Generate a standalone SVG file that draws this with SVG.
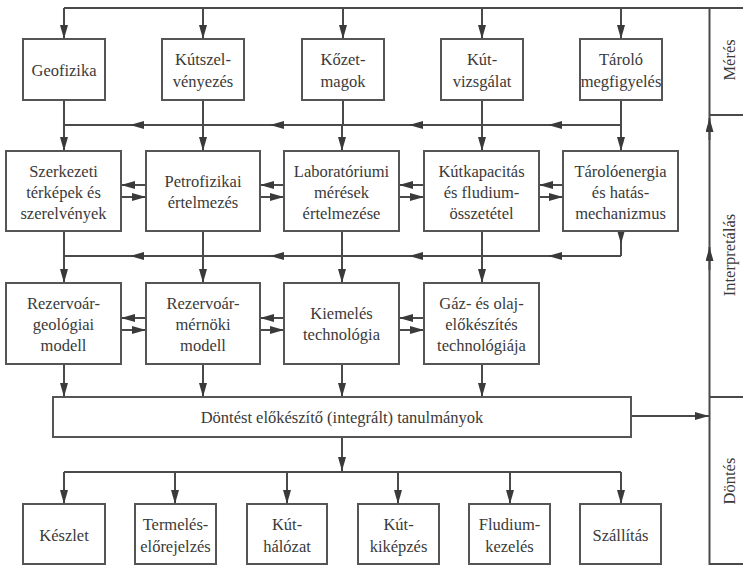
<svg xmlns="http://www.w3.org/2000/svg" width="743" height="565" viewBox="0 0 743 565" font-family="'Liberation Serif', 'DejaVu Serif', serif">
<defs>
<marker id="ah" markerUnits="userSpaceOnUse" markerWidth="14" markerHeight="8" refX="14" refY="4" orient="auto">
<path d="M0,0 L14,4 L0,8 z" fill="#3a3a3a"/>
</marker>
</defs>
<style>
.box{fill:#fff;stroke:#555;stroke-width:2}
.c{fill:none;stroke:#4a4a4a;stroke-width:2}
.a{marker-end:url(#ah)}
text{font-family:'Liberation Serif','DejaVu Serif',serif;font-size:16.5px;fill:#3a3a3a;text-anchor:middle}
</style>
<rect width="743" height="565" fill="#fff"/>

<g id="connectors">
<path class="c" d="M64,8 H743"/>
<path class="c a" d="M64,8 V39"/>
<path class="c a" d="M203,8 V39"/>
<path class="c a" d="M343,8 V39"/>
<path class="c a" d="M482,8 V39"/>
<path class="c a" d="M621,8 V39"/>
<path class="c" d="M64,100 V125 M203,100 V125 M343,100 V125 M482,100 V125 M621,100 V125"/>
<path class="c a" d="M621,125 H548"/>
<path class="c a" d="M548,125 H409"/>
<path class="c a" d="M409,125 H270"/>
<path class="c a" d="M270,125 H130"/>
<path class="c" d="M130,125 H64"/>
<path class="c a" d="M64,125 V151"/>
<path class="c a" d="M203,125 V151"/>
<path class="c a" d="M342,125 V151"/>
<path class="c a" d="M482,125 V151"/>
<path class="c a" d="M621,125 V151"/>
<path class="c a" d="M146,185 H121"/>
<path class="c a" d="M121,197 H146"/>
<path class="c a" d="M284,185 H260"/>
<path class="c a" d="M260,197 H284"/>
<path class="c a" d="M424,185 H399"/>
<path class="c a" d="M399,197 H424"/>
<path class="c a" d="M563,185 H539"/>
<path class="c a" d="M539,197 H563"/>
<path class="c" d="M64,231 V256 M203,231 V256 M342,231 V256 M482,231 V256 M621,243 V256"/>
<path class="c a" d="M621,231 V244"/>
<path class="c a" d="M621,256 H548"/>
<path class="c a" d="M548,256 H409"/>
<path class="c a" d="M409,256 H270"/>
<path class="c a" d="M270,256 H130"/>
<path class="c" d="M130,256 H64"/>
<path class="c a" d="M64,256 V283"/>
<path class="c a" d="M203,256 V283"/>
<path class="c a" d="M342,256 V283"/>
<path class="c a" d="M482,256 V283"/>
<path class="c a" d="M146,318 H121"/>
<path class="c a" d="M121,330 H146"/>
<path class="c a" d="M284,318 H260"/>
<path class="c a" d="M260,330 H284"/>
<path class="c a" d="M424,318 H399"/>
<path class="c a" d="M399,330 H424"/>
<path class="c a" d="M64,364 V397"/>
<path class="c a" d="M203,364 V397"/>
<path class="c a" d="M342,364 V397"/>
<path class="c a" d="M482,364 V397"/>
<path class="c a" d="M631,416 H709"/>
<path class="c a" d="M342,437 V471"/>
<path class="c" d="M64,472 H621"/>
<path class="c a" d="M64,472 V504"/>
<path class="c a" d="M175,472 V504"/>
<path class="c a" d="M287,472 V504"/>
<path class="c a" d="M398,472 V504"/>
<path class="c a" d="M510,472 V504"/>
<path class="c a" d="M621,472 V504"/>
<path class="c" d="M709.5,8 V565 M709.5,115 H743 M709.5,397 H743 M709.5,564 H743"/>
<path class="c a" d="M709.5,140 V118"/>
<path class="c a" d="M709.5,270 V247"/>
</g>

<g id="n-geofizika"><rect class="box" x="23" y="39" width="82" height="61"/><text x="64" y="76">Geofizika</text></g>
<g id="n-kutszelvenyezes"><rect class="box" x="162" y="39" width="82" height="61"/><text x="203" y="65">Kútszel-</text><text x="203" y="87">vényezés</text></g>
<g id="n-kozetmagok"><rect class="box" x="302" y="39" width="82" height="61"/><text x="343" y="65">Kőzet-</text><text x="343" y="87">magok</text></g>
<g id="n-kutvizsgalat"><rect class="box" x="441" y="39" width="82" height="61"/><text x="482" y="65">Kút-</text><text x="482" y="87">vizsgálat</text></g>
<g id="n-tarolo"><rect class="box" x="580" y="39" width="82" height="61"/><text x="621" y="65">Tároló</text><text x="621" y="87">megfigyelés</text></g>

<g id="n-szerkezeti"><rect class="box" x="6" y="151" width="115" height="80"/><text x="63.5" y="176.5">Szerkezeti</text><text x="63.5" y="197.5">térképek és</text><text x="63.5" y="218.5">szerelvények</text></g>
<g id="n-petrofizikai"><rect class="box" x="146" y="151" width="114" height="80"/><text x="203" y="187">Petrofizikai</text><text x="203" y="208">értelmezés</text></g>
<g id="n-laboratoriumi"><rect class="box" x="284" y="151" width="115" height="80"/><text x="341.5" y="176.5">Laboratóriumi</text><text x="341.5" y="197.5">mérések</text><text x="341.5" y="218.5">értelmezése</text></g>
<g id="n-kutkapacitas"><rect class="box" x="424" y="151" width="115" height="80"/><text x="481.5" y="176.5">Kútkapacitás</text><text x="481.5" y="197.5">és fludium-</text><text x="481.5" y="218.5">összetétel</text></g>
<g id="n-taroloenergia"><rect class="box" x="563" y="151" width="115" height="80"/><text x="620.5" y="176.5">Tárolóenergia</text><text x="620.5" y="197.5">és hatás-</text><text x="620.5" y="218.5">mechanizmus</text></g>

<g id="n-rezgeol"><rect class="box" x="6" y="283" width="115" height="81"/><text x="63.5" y="308.5">Rezervoár-</text><text x="63.5" y="329.5">geológiai</text><text x="63.5" y="350.5">modell</text></g>
<g id="n-rezmern"><rect class="box" x="146" y="283" width="114" height="81"/><text x="203" y="308.5">Rezervoár-</text><text x="203" y="329.5">mérnöki</text><text x="203" y="350.5">modell</text></g>
<g id="n-kiemeles"><rect class="box" x="284" y="283" width="115" height="81"/><text x="341.5" y="319">Kiemelés</text><text x="341.5" y="340">technológia</text></g>
<g id="n-gazolaj"><rect class="box" x="424" y="283" width="115" height="81"/><text x="481.5" y="308.5">Gáz- és olaj-</text><text x="481.5" y="329.5">előkészítés</text><text x="481.5" y="350.5">technológiája</text></g>

<g id="n-dontes-elokeszito"><rect class="box" x="53" y="397" width="578" height="40"/><text x="342" y="423">Döntést előkészítő (integrált) tanulmányok</text></g>

<g id="n-keszlet"><rect class="box" x="23" y="504" width="82" height="60"/><text x="64" y="541">Készlet</text></g>
<g id="n-termeles"><rect class="box" x="135" y="504" width="81" height="60"/><text x="175.5" y="530">Termelés-</text><text x="175.5" y="552">előrejelzés</text></g>
<g id="n-kuthalozat"><rect class="box" x="247" y="504" width="80" height="60"/><text x="287" y="530">Kút-</text><text x="287" y="552">hálózat</text></g>
<g id="n-kutkikepzes"><rect class="box" x="358" y="504" width="81" height="60"/><text x="398.5" y="530">Kút-</text><text x="398.5" y="552">kiképzés</text></g>
<g id="n-fludium"><rect class="box" x="469" y="504" width="81" height="60"/><text x="509.5" y="530">Fludium-</text><text x="509.5" y="552">kezelés</text></g>
<g id="n-szallitas"><rect class="box" x="580" y="504" width="81" height="60"/><text x="620.5" y="541">Szállítás</text></g>

<g id="labels">
<text transform="translate(730,60) rotate(-90)" y="5">Mérés</text>
<text transform="translate(730,255) rotate(-90)" y="5">Interpretálás</text>
<text transform="translate(730,481) rotate(-90)" y="5">Döntés</text>
</g>
</svg>
